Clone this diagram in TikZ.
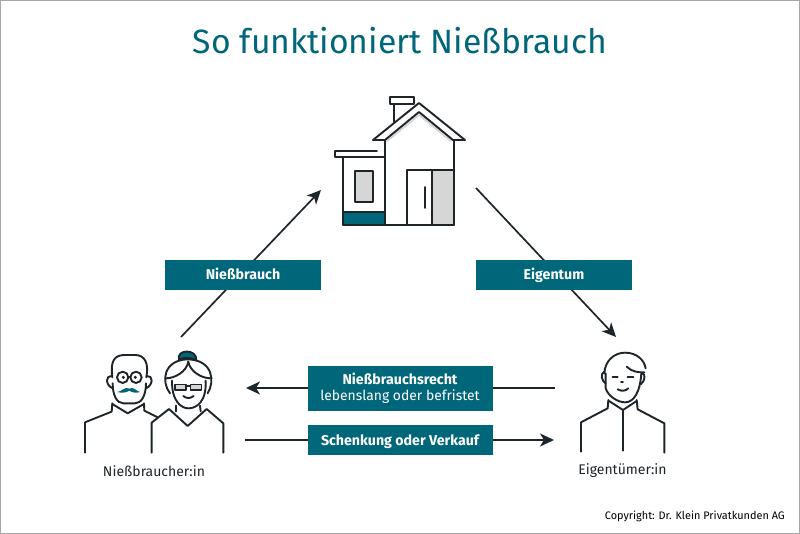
\documentclass[tikz,border=0pt]{standalone}
\usepackage{fontspec}
\setmainfont{Fira Sans}
\usetikzlibrary{arrows.meta}
\definecolor{kleinteal}{HTML}{00667A}
\definecolor{kleinink}{HTML}{1E2529}
\definecolor{kleingrey}{HTML}{D6D6D6}
\tikzset{
	labelbox/.style={fill=kleinteal,text=white,align=center,inner sep=0pt,minimum width=#1,font=\fontsize{14.2}{16.5}\selectfont},
	oneline/.style={minimum height=30pt,text height=12pt,text depth=2pt},
	flow/.style={->,line width=1.7pt,draw=kleinink},
	icon/.style={line width=1.9pt,draw=kleinink,line join=round,line cap=round},
	caption/.style={text=kleinink,font=\fontsize{14}{16}\selectfont},
}
\begin{document}
\begin{tikzpicture}[>={Stealth[length=14pt,width=13pt,inset=4pt]},x=1pt,y=-1pt]
	\useasboundingbox (0,0) rectangle (800,534);
	\fill [white] (0,0) rectangle (800,534);
	\draw [black!35,line width=1.6pt] (0,0) rectangle (800,534);
	\node [text=kleinteal,font=\fontsize{33.7}{40}\selectfont] (title) at (400,41) {So funktioniert Nießbrauch};
	% free ends of the arrows
	\coordinate (useFrom) at (181,337);
	\coordinate (useTo) at (321,190);
	\coordinate (ownFrom) at (476,188);
	\coordinate (ownTo) at (616,337);
	\coordinate (rightFrom) at (555,388);
	\coordinate (rightTo) at (246,388);
	\coordinate (giftFrom) at (245,440);
	\coordinate (giftTo) at (554,440);
	\draw [flow] (useFrom) -- (useTo);
	\draw [flow] (ownFrom) -- (ownTo);
	\draw [flow] (rightFrom) -- (rightTo);
	\draw [flow] (giftFrom) -- (giftTo);
	\node [labelbox=156pt,oneline] (use) at (243,275) {\bfseries Nießbrauch};
	\node [labelbox=156pt,oneline] (own) at (554,275) {\bfseries Eigentum};
	\node [labelbox=185pt,minimum height=45pt] (right) at (400,388) {{\bfseries Nießbrauchsrecht}\\\fontsize{13.9}{16.5}\selectfont lebenslang oder befristet};
	\node [labelbox=185pt,oneline] (gift) at (400,440) {\bfseries Schenkung oder Verkauf};
	\node [caption] (users) at (154,471) {Nießbraucher:in};
	\node [caption] (owner) at (622.5,471) {Eigentümer:in};
	\node [anchor=east,inner sep=0pt,text=black,font=\fontsize{10.9}{12}\selectfont] (copy) at (785,516) {Copyright: Dr. Klein Privatkunden AG};
	% house
	\begin{scope}[icon]
		\fill [kleingrey] (355,171) rectangle (373,202);
		\fill [kleingrey] (433,171) rectangle (454,224);
		\fill [kleinteal] (344,212) rectangle (385,225);
		\draw (390,97) rectangle (414,104);
		\draw (394,104) -- (394,122);
		\draw [kleingrey] (387,141) -- (419,115) -- (451,141);
		\draw (385,140) -- (373,140) -- (419,103) -- (465,140) -- (453,140) -- (419,112) -- (385,140);
		\draw (385,140) -- (385,225);
		\draw (454,140) -- (454,225);
		\draw (343,225) -- (454,225);
		\draw (343,157) -- (343,225);
		\draw (377,151) -- (335,151) -- (335,157) -- (385,157);
		\draw (355,171) rectangle (373,202);
		\draw (344,212) -- (385,212);
		\draw (407,225) -- (407,170) -- (454,170);
		\draw (432,170) -- (432,225);
		\draw (425,187) -- (425,208);
	\end{scope}
	% couple
	\begin{scope}[shift={(75,340)},x=.3333pt,y=-.3333pt,icon]
		\draw (112,112) .. controls (105,60) and (120,45) .. (150,45) -- (180,45) .. controls (210,45) and (222,70) .. (214,112);
		\draw (113,130) .. controls (113,165) and (125,190) .. (145,190) -- (180,190) .. controls (200,190) and (213,165) .. (213,130);
		\draw (110,108) .. controls (92,105) and (90,135) .. (113,145);
		\draw (216,108) .. controls (234,105) and (236,135) .. (213,145);
		\draw (143,112) circle (17);
		\draw (183,112) circle (17);
		\draw (160,110) -- (166,110);
		\fill [kleinink] (145,112) circle (5);
		\fill [kleinink] (181,112) circle (5);
		\fill [kleinteal] (127,156) .. controls (140,155) and (150,138) .. (163,146) .. controls (176,138) and (185,155) .. (195,156) .. controls (185,160) and (172,158) .. (163,152) .. controls (154,158) and (140,160) .. (127,156) -- cycle;
		\draw (112,190) -- (110,215) -- (30,247) -- (30,338);
		\draw (112,192) -- (158,220) -- (207,192);
		\draw (207,190) -- (208,212) -- (248,232);
		\filldraw [fill=kleinteal] (312,58) .. controls (303,28) and (366,25) .. (364,60) .. controls (345,52) and (330,52) .. (312,58) -- cycle;
		\draw (285,160) .. controls (258,125) and (265,60) .. (338,58) .. controls (415,60) and (420,125) .. (398,160);
		\draw (340,65) .. controls (335,95) and (300,115) .. (272,115);
		\draw (340,65) .. controls (345,95) and (380,115) .. (408,115);
		\draw (291,122) .. controls (290,185) and (320,205) .. (340,205) .. controls (365,205) and (395,185) .. (392,122);
		\filldraw [fill=kleingrey,line width=1.2pt] (300,133) rectangle (333,150);
		\filldraw [fill=kleingrey,line width=1.2pt] (347,133) rectangle (380,150);
		\draw [line width=1.2pt] (333,138) -- (347,138);
		\draw (325,168) .. controls (333,176) and (347,176) .. (356,168);
		\draw (230,338) -- (230,248) -- (282,207) -- (338,258) -- (395,207) -- (445,250) -- (445,338);
		\draw (303,197) -- (303,214);
		\draw (375,197) -- (377,214);
	\end{scope}
	% owner
	\begin{scope}[shift={(565,340)},x=.3333pt,y=-.3333pt,icon]
		\draw (118,100) .. controls (120,60) and (150,38) .. (180,38) .. controls (215,38) and (238,60) .. (242,85);
		\draw (185,80) .. controls (200,95) and (220,98) .. (238,97);
		\draw (122,100) -- (122,145) .. controls (130,170) and (160,187) .. (180,187) .. controls (205,187) and (225,160) .. (229,100);
		\draw (118,95) .. controls (105,100) and (110,125) .. (122,130);
		\draw (231,100) .. controls (243,100) and (240,125) .. (227,133);
		\draw (143,110) -- (158,110);
		\draw (188,110) -- (205,110);
		\draw (168,127) -- (174,127);
		\draw (158,148) .. controls (170,155) and (182,153) .. (190,145);
		\draw (130,180) -- (128,205) -- (48,247) -- (48,335);
		\draw (132,183) -- (174,210) -- (215,183);
		\draw (215,180) -- (218,208) -- (298,250) -- (298,338);
		\draw (174,210) -- (174,332);
	\end{scope}
\end{tikzpicture}
\end{document}
